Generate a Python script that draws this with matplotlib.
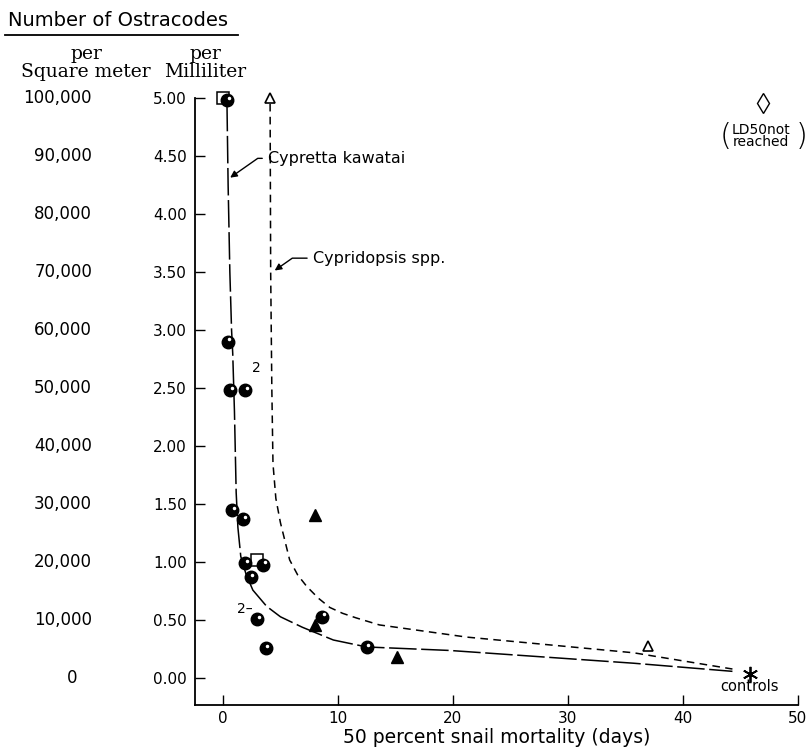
import numpy as np
import matplotlib
matplotlib.use("Agg")
import matplotlib.pyplot as plt
from matplotlib.lines import Line2D
import matplotlib.transforms as mtrans

# --- data (x = days to 50% snail mortality, y = ostracodes per mL)
circ_x = [0.35, 0.4, 0.6, 1.9, 0.8, 1.75, 1.9, 3.5, 2.4, 3.0, 3.7, 8.6, 12.5]
circ_y = [4.98, 2.90, 2.48, 2.48, 1.45, 1.37, 0.99, 0.98, 0.87, 0.51, 0.26, 0.53, 0.27]
sq_x = [0.0, 3.0]
sq_y = [5.00, 1.02]
tri_fill_x = [8.0, 8.0, 15.1]
tri_fill_y = [1.41, 0.46, 0.18]
tri_open_x = [4.1, 37.0]
tri_open_y = [5.00, 0.28]
ctrl_x, ctrl_y = 45.8, 0.04
ld50_x, ld50_y = 47.0, 4.96

cypretta_x = [0.35, 0.45, 0.6, 0.75, 0.85, 1.0, 1.15, 1.3, 1.55, 2.0, 2.6, 3.8, 5.0, 6.9, 9.6, 12.5, 19.7, 35.7, 44.3]
cypretta_y = [4.95, 4.25, 3.5, 3.0, 2.8, 2.3, 1.6, 1.3, 1.05, 0.9, 0.76, 0.62, 0.53, 0.44, 0.33, 0.27, 0.24, 0.13, 0.06]
cypridopsis_x = [4.1, 4.15, 4.25, 4.35, 4.6, 5.0, 5.8, 6.5, 7.3, 8.3, 9.3, 10.4, 11.6, 13.6, 21.2, 35.7, 44.3]
cypridopsis_y = [4.95, 3.5, 2.5, 1.85, 1.55, 1.34, 1.02, 0.89, 0.79, 0.69, 0.61, 0.56, 0.52, 0.46, 0.355, 0.22, 0.08]

ml_ticks = [0.0, 0.5, 1.0, 1.5, 2.0, 2.5, 3.0, 3.5, 4.0, 4.5, 5.0]
ml_labels = ["0.00", "0.50", "1.00", "1.50", "2.00", "2.50", "3.00", "3.50", "4.00", "4.50", "5.00"]
sqm_labels = ["0", "10,000", "20,000", "30,000", "40,000", "50,000", "60,000", "70,000", "80,000", "90,000", "100,000"]
day_ticks = [0, 10, 20, 30, 40, 50]

W, H = 807, 753
fig = plt.figure(figsize=(W / 100, H / 100), dpi=100)
ax = fig.add_axes([195 / W, 1 - 705 / H, (798 - 195) / W, (705 - 98) / H])
ax.set_xlim(-2.43, 50.0)
ax.set_ylim(-0.23, 5.0)

for s in ["top", "right"]:
    ax.spines[s].set_visible(False)
ax.spines["left"].set_linewidth(1.3)
ax.spines["bottom"].set_linewidth(1.3)

ax.set_yticks(ml_ticks)
ax.set_yticklabels(ml_labels)
ax.set_xticks(day_ticks)
ax.tick_params(axis="both", direction="in", length=7, width=1.0, labelsize=11, pad=4)
ax.tick_params(axis="y", pad=6)
ax.set_xlabel("50 percent snail mortality (days)", fontsize=13.5, labelpad=2)

# curves
l1, = ax.plot(cypretta_x, cypretta_y, color="black", lw=1.1, clip_on=False)
l1.set_dashes([18, 3])
l2, = ax.plot(cypridopsis_x, cypridopsis_y, color="black", lw=1.1, clip_on=False)
l2.set_dashes([5, 3.5])

# points
ax.plot(circ_x, circ_y, "o", color="black", ms=9, clip_on=False, zorder=4)
ax.plot(np.array(circ_x) + 0.15, np.array(circ_y) + 0.02, ".", color="white", ms=3, clip_on=False, zorder=5)
ax.plot(sq_x, sq_y, "s", mfc="none", mec="black", ms=8, mew=1.1, clip_on=False, zorder=3)
ax.plot(tri_fill_x, tri_fill_y, "^", color="black", ms=9, clip_on=False, zorder=4)
ax.plot(tri_open_x, tri_open_y, "^", mfc="white", mec="black", ms=7, mew=1.2, clip_on=False, zorder=4)
ax.plot([ctrl_x], [ctrl_y], marker=(6, 2, 0), color="black", ms=11, mew=1.3, clip_on=False)
ax.plot([ld50_x], [ld50_y], "d", mfc="none", mec="black", ms=10, mew=1.0, clip_on=False)

# annotations
ax.text(2.5, 2.64, "2", fontsize=10)
ax.text(1.2, 0.56, "2\u2013", fontsize=10)
ax.annotate("Cypretta kawatai", xy=(0.43, 4.30), xytext=(3.9, 4.48), fontsize=11.5,
            va="center", ha="left",
            arrowprops=dict(arrowstyle="-|>", color="black", lw=1.0, mutation_scale=10,
                            connectionstyle="angle,angleA=0,angleB=35,rad=0"))
ax.annotate("Cypridopsis spp.", xy=(4.3, 3.5), xytext=(7.8, 3.62), fontsize=11.5,
            va="center", ha="left",
            arrowprops=dict(arrowstyle="-|>", color="black", lw=1.0, mutation_scale=10,
                            connectionstyle="angle,angleA=0,angleB=35,rad=0"))
ax.text(ctrl_x, -0.07, "controls", fontsize=10.5, ha="center", va="center")
ax.text(ld50_x - 0.2, 4.67, "LD50not\nreached", fontsize=10, ha="center", va="center", linespacing=0.85)
ax.text(ld50_x - 3.3, 4.67, "(", fontsize=22, ha="center", va="center", fontweight="light")
ax.text(ld50_x + 3.3, 4.67, ")", fontsize=22, ha="center", va="center", fontweight="light")

# left header and second y scale (per square meter)
fig.text(8 / W, 1 - 21 / H, "Number of Ostracodes", fontsize=14, ha="left", va="center")
fig.add_artist(Line2D([5 / W, 238 / W], [1 - 35 / H, 1 - 35 / H], color="black", lw=1.3))
fig.text(86 / W, 1 - 63 / H, "per\nSquare meter", fontsize=13.5, family="DejaVu Serif",
         ha="center", va="center", linespacing=0.95)
fig.text(205 / W, 1 - 63 / H, "per\nMilliliter", fontsize=13.5, family="DejaVu Serif",
         ha="center", va="center", linespacing=0.95)

trans = mtrans.blended_transform_factory(fig.transFigure, ax.transData)
for val, lab in zip(ml_ticks, sqm_labels):
    if lab == "0":
        ax.text(72 / W, val, lab, transform=trans, fontsize=12, ha="center", va="center")
    else:
        ax.text(92 / W, val, lab, transform=trans, fontsize=12, ha="right", va="center")

fig.savefig("out.png", dpi=100)
